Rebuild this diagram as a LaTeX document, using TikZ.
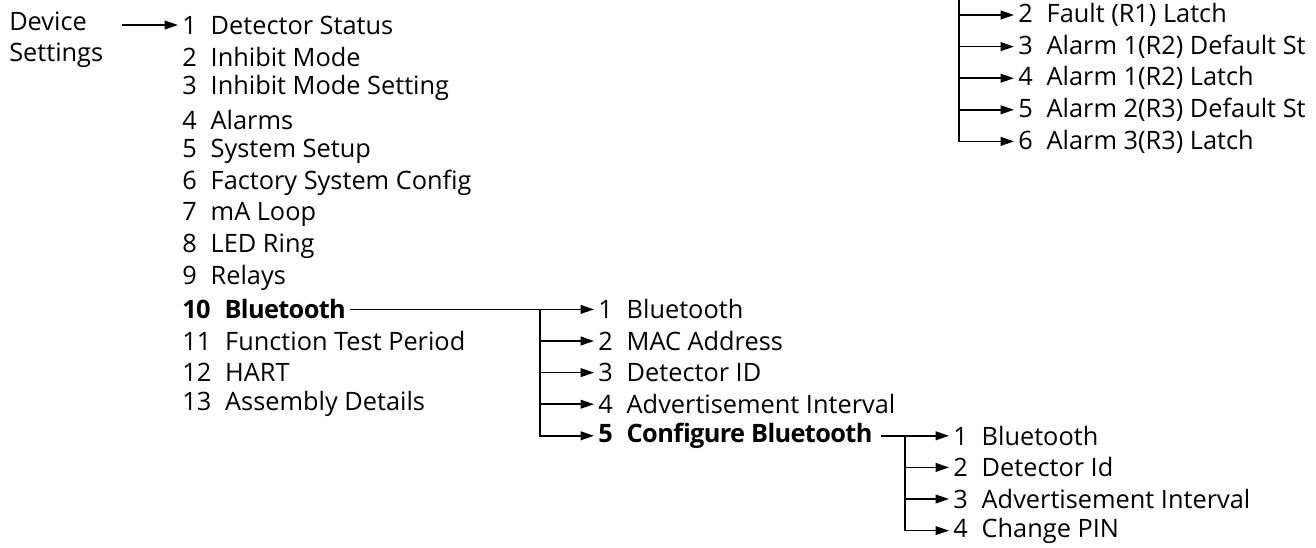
\documentclass[tikz,border=0pt]{standalone}
\usepackage{fontspec}
\setmainfont{Open Sans}[BoldFeatures={LetterSpace=-2.5}]
\usetikzlibrary{arrows.meta,calc}

\tikzset{
  menu/.style={anchor=west, inner sep=3pt, font=\fontsize{19}{23.5}\selectfont},
  link/.style={draw=black, line width=1.2pt},
  arr/.style={link, -{Triangle[length=10pt,width=6.5pt]}}
}
\newcommand{\entry}[2]{#1\hspace{0.55em}#2}

\begin{document}
\begin{tikzpicture}[x=0.75pt,y=-0.75pt]
  \clip (0,0) rectangle (1316,547);

  % root
  \node[menu, align=left] (dev) at (5,40) {Device\\Settings};

  % device settings menu
  \foreach \n/\t in {1/Detector Status, 2/Inhibit Mode, 3/Inhibit Mode Setting,
      4/Alarms, 5/System Setup, 6/Factory System Config, 7/mA Loop,
      8/LED Ring, 9/Relays, 11/Function Test Period, 12/HART,
      13/Assembly Details}
    \node[menu] (m\n) at (178,25+31.6*\n-31.6) {\entry{\n}{\t}};
  \node[menu, font=\fontsize{19}{23.5}\selectfont\bfseries] (m10) at (178,25+31.6*9)
    {\entry{10}{Bluetooth}};

  \draw[arr] ([xshift=11pt]dev.east |- m1.west) -- (m1.west);

  % bluetooth menu
  \foreach \n/\t in {1/Bluetooth, 2/MAC Address, 3/Detector ID,
      4/Advertisement Interval}
    \node[menu] (b\n) at (594,25+31.6*8+31.6*\n) {\entry{\n}{\t}};
  \node[menu, font=\fontsize{19}{23.5}\selectfont\bfseries] (b5) at (594,25+31.6*13)
    {\entry{5}{Configure Bluetooth}};

  \coordinate (bj) at (540,0);
  \draw[arr] (m10.east) -- (b1.west);
  \foreach \n in {2,...,5}
    \draw[arr] (bj |- b1.west) |- (b\n.west);

  % configure bluetooth menu
  \foreach \n/\t in {1/Bluetooth, 2/Detector Id, 3/Advertisement Interval,
      4/Change PIN}
    \node[menu] (c\n) at (949,25+31.6*12+31.6*\n) {\entry{\n}{\t}};

  \coordinate (cj) at (905,0);
  \draw[arr] ([xshift=3pt]b5.east) -- (c1.west);
  \foreach \n in {2,...,4}
    \draw[arr] (cj |- c1.west) |- (c\n.west);

  % relays menu (top right, cut off)
  \foreach \n/\t in {2/Fault (R1) Latch, 3/Alarm 1(R2) Default St,
      4/Alarm 1(R2) Latch, 5/Alarm 2(R3) Default St, 6/Alarm 3(R3) Latch}
    \node[menu] (r\n) at (1014,15+31.6*\n-63.2) {\entry{\n}{\t}};

  \coordinate (rtop) at (959,-20);
  \foreach \n in {2,...,6}
    \draw[arr] (rtop) |- (r\n.west);
\end{tikzpicture}
\end{document}
